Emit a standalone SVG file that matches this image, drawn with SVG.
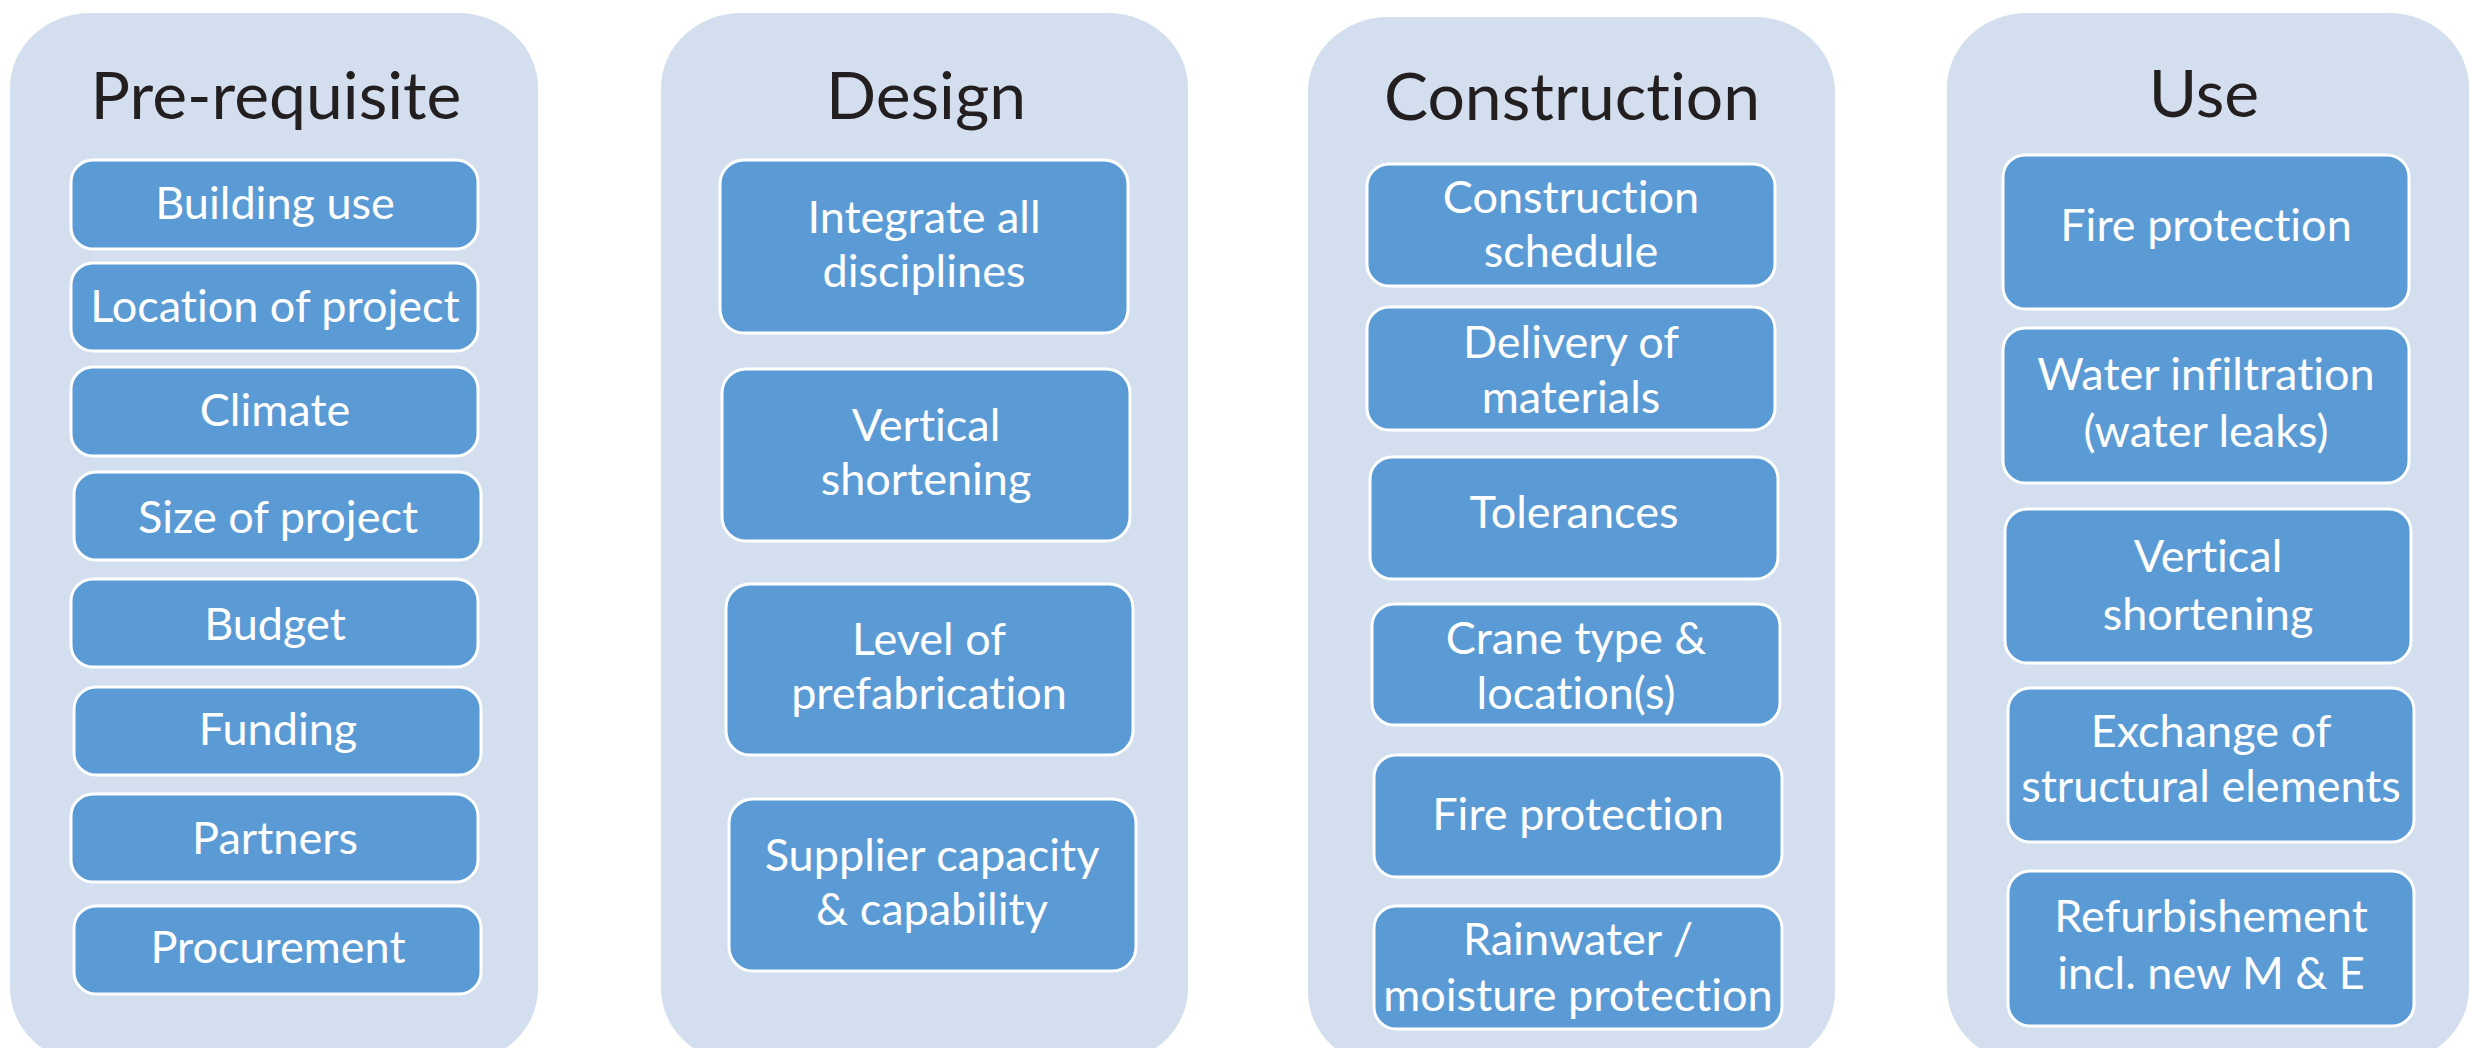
<svg xmlns="http://www.w3.org/2000/svg" width="2472" height="1048" viewBox="0 0 2472 1048">
<style>
.panel{fill:#D3DFEE;}
.box{fill:#5B9BD5;stroke:#FFFFFF;stroke-width:3;}
.title{font-family:Lato,"Liberation Sans",sans-serif;font-size:66px;fill:#231F20;text-anchor:middle;font-variant-ligatures:none;}
.lbl{font-family:Lato,"Liberation Sans",sans-serif;font-size:45px;fill:#FFFFFF;text-anchor:middle;font-variant-ligatures:none;}
</style>
<rect width="2472" height="1048" fill="#FFFFFF"/>
<g id="panel-prerequisite">
<rect class="panel" x="10" y="13" width="528" height="1050" rx="80" ry="75"/>
<text class="title" x="276" y="119">Pre-requisite</text>
</g>
<g id="panel-design">
<rect class="panel" x="661" y="13" width="527" height="1050" rx="80" ry="75"/>
<text class="title" x="926" y="119">Design</text>
</g>
<g id="panel-construction">
<rect class="panel" x="1308" y="17" width="527" height="1050" rx="80" ry="75"/>
<text class="title" x="1572" y="120">Construction</text>
</g>
<g id="panel-use">
<rect class="panel" x="1947" y="13" width="522" height="1050" rx="80" ry="75"/>
<text class="title" x="2204" y="117">Use</text>
</g>
<g id="connectors"></g>
<g id="n-building-use"><rect class="box" x="71" y="160" width="407" height="89" rx="22"/><text class="lbl" x="275" y="219">Building use</text></g>
<g id="n-location"><rect class="box" x="71" y="263" width="407" height="88" rx="22"/><text class="lbl" x="275" y="322">Location of project</text></g>
<g id="n-climate"><rect class="box" x="71" y="367" width="407" height="89" rx="22"/><text class="lbl" x="275" y="426">Climate</text></g>
<g id="n-size"><rect class="box" x="74" y="472" width="407" height="88" rx="22"/><text class="lbl" x="278" y="533">Size of project</text></g>
<g id="n-budget"><rect class="box" x="71" y="579" width="407" height="88" rx="22"/><text class="lbl" x="275" y="640">Budget</text></g>
<g id="n-funding"><rect class="box" x="74" y="687" width="407" height="88" rx="22"/><text class="lbl" x="278" y="745">Funding</text></g>
<g id="n-partners"><rect class="box" x="71" y="794" width="407" height="88" rx="22"/><text class="lbl" x="275" y="854">Partners</text></g>
<g id="n-procurement"><rect class="box" x="74" y="906" width="407" height="88" rx="22"/><text class="lbl" x="278" y="963">Procurement</text></g>

<g id="n-integrate"><rect class="box" x="720" y="160" width="408" height="173" rx="24"/><text class="lbl" x="924" y="233">Integrate all</text><text class="lbl" x="924" y="287">disciplines</text></g>
<g id="n-vertical-design"><rect class="box" x="722" y="369" width="408" height="172" rx="24"/><text class="lbl" x="926" y="441">Vertical</text><text class="lbl" x="926" y="495">shortening</text></g>
<g id="n-prefab"><rect class="box" x="726" y="584" width="407" height="171" rx="24"/><text class="lbl" x="929" y="655">Level of</text><text class="lbl" x="929" y="709">prefabrication</text></g>
<g id="n-supplier"><rect class="box" x="729" y="799" width="407" height="172" rx="24"/><text class="lbl" x="932" y="871">Supplier capacity</text><text class="lbl" x="932" y="925">&amp; capability</text></g>

<g id="n-schedule"><rect class="box" x="1367" y="164" width="408" height="122" rx="22"/><text class="lbl" x="1571" y="213">Construction</text><text class="lbl" x="1571" y="267">schedule</text></g>
<g id="n-delivery"><rect class="box" x="1367" y="307" width="408" height="123" rx="22"/><text class="lbl" x="1571" y="358">Delivery of</text><text class="lbl" x="1571" y="413">materials</text></g>
<g id="n-tolerances"><rect class="box" x="1370" y="457" width="408" height="122" rx="22"/><text class="lbl" x="1574" y="528">Tolerances</text></g>
<g id="n-crane"><rect class="box" x="1372" y="604" width="408" height="121" rx="22"/><text class="lbl" x="1576" y="654">Crane type &amp;</text><text class="lbl" x="1576" y="709">location(s)</text></g>
<g id="n-fire-construction"><rect class="box" x="1374" y="755" width="408" height="122" rx="22"/><text class="lbl" x="1578" y="830">Fire protection</text></g>
<g id="n-rainwater"><rect class="box" x="1374" y="906" width="408" height="123" rx="22"/><text class="lbl" x="1578" y="955">Rainwater /</text><text class="lbl" x="1578" y="1011">moisture protection</text></g>

<g id="n-fire-use"><rect class="box" x="2003" y="155" width="406" height="154" rx="22"/><text class="lbl" x="2206" y="241">Fire protection</text></g>
<g id="n-water"><rect class="box" x="2003" y="328" width="406" height="155" rx="22"/><text class="lbl" x="2206" y="390">Water infiltration</text><text class="lbl" x="2206" y="447">(water leaks)</text></g>
<g id="n-vertical-use"><rect class="box" x="2005" y="509" width="406" height="154" rx="22"/><text class="lbl" x="2208" y="572">Vertical</text><text class="lbl" x="2208" y="630">shortening</text></g>
<g id="n-exchange"><rect class="box" x="2008" y="688" width="406" height="154" rx="22"/><text class="lbl" x="2211" y="747">Exchange of</text><text class="lbl" x="2211" y="802">structural elements</text></g>
<g id="n-refurb"><rect class="box" x="2008" y="871" width="406" height="155" rx="22"/><text class="lbl" x="2211" y="932">Refurbishement</text><text class="lbl" x="2211" y="989">incl. new M &amp; E</text></g>
</svg>
